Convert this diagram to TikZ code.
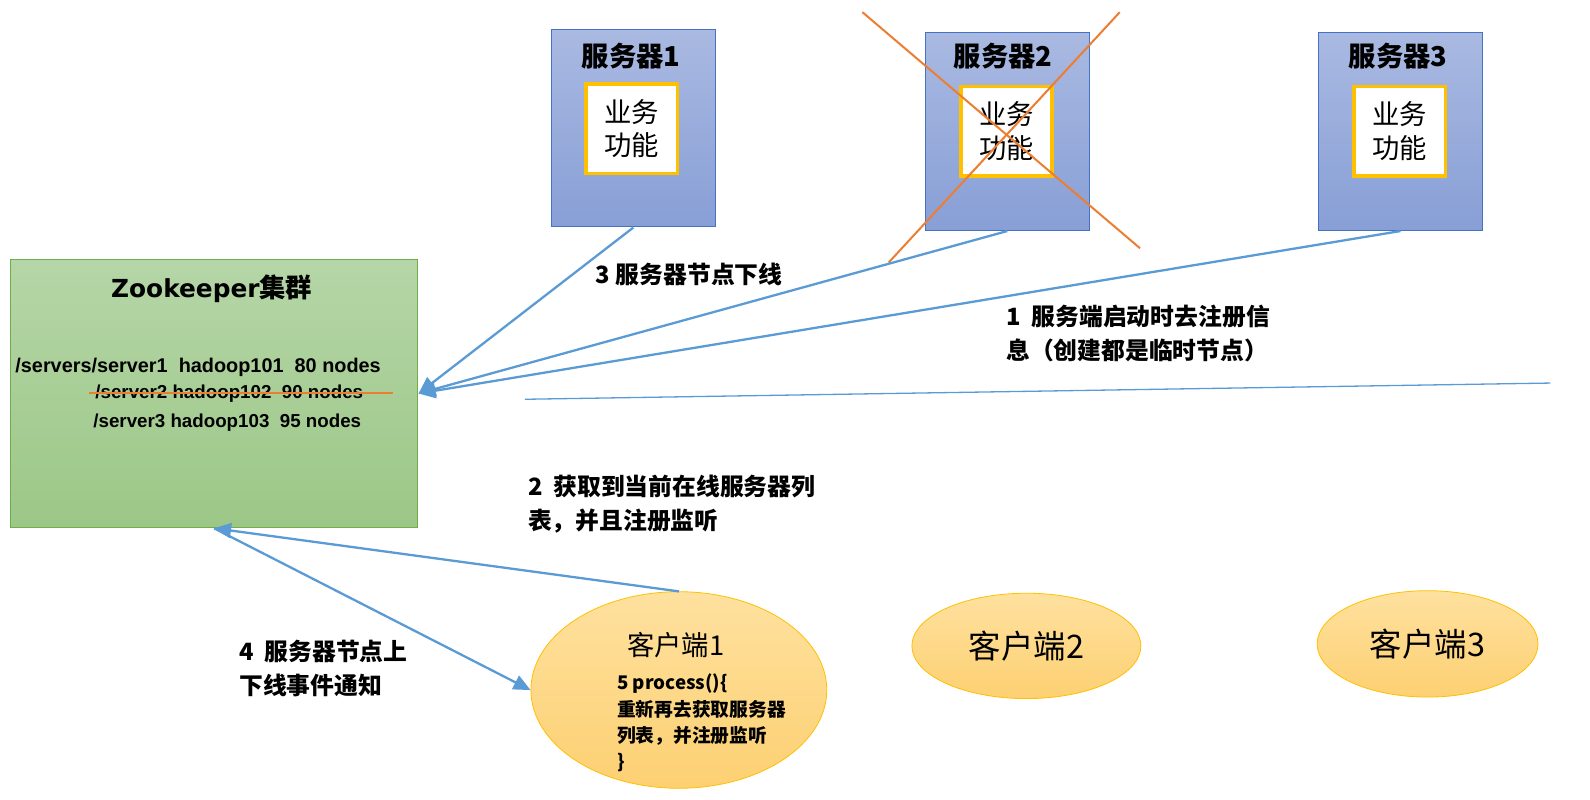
\documentclass[tikz,border=0pt]{standalone}
\usepackage{fontspec}
\setmainfont{Liberation Sans}
\newfontfamily\cjk{Noto Sans CJK SC}
\newfontfamily\zkfont{DejaVu Sans}
\usetikzlibrary{arrows.meta,shapes.geometric}
\definecolor{srvtop}{HTML}{A9B9E1}
\definecolor{srvbot}{HTML}{889FD6}
\definecolor{srvline}{HTML}{4472C4}
\definecolor{zktop}{HTML}{B5D6A7}
\definecolor{zkbot}{HTML}{9CC787}
\definecolor{zkline}{HTML}{70AD47}
\definecolor{cltop}{HTML}{FEE19F}
\definecolor{clbot}{HTML}{FDD072}
\definecolor{gold}{HTML}{FFC000}
\definecolor{arrowblue}{HTML}{5B9BD5}
\definecolor{xorange}{HTML}{ED7D31}
\tikzset{
  srvbox/.style={draw=srvline, line width=1pt, top color=srvtop, bottom color=srvbot, minimum width=162pt, minimum height=195pt, inner sep=0pt},
  funcbox/.style={draw=gold, line width=3.5pt, fill=white, minimum width=90pt, minimum height=88pt, inner sep=0pt, align=center, font=\cjk\fontsize{27}{33}\selectfont},
  srvtitle/.style={font=\cjk\bfseries\fontsize{27}{30}\selectfont, inner sep=0pt},
  zkbox/.style={draw=zkline, line width=1pt, top color=zktop, bottom color=zkbot, minimum width=402.5pt, minimum height=265pt, inner sep=0pt},
  client/.style={ellipse, draw=gold, line width=0.8pt, top color=cltop, bottom color=clbot, inner sep=0pt},
  lbl/.style={font=\cjk\bfseries\fontsize{23.5}{33}\selectfont, align=left, inner sep=0pt, anchor=north west},
  zktext/.style={font=\bfseries\fontsize{18.5}{20}\selectfont, inner sep=0pt, anchor=base west},
  conn/.style={draw=arrowblue, line width=2.3pt},
  arr/.style={conn, -{Triangle[length=17pt,width=15pt]}},
  cross/.style={draw=xorange, line width=2pt}
}
\begin{document}
\begin{tikzpicture}[x=1pt,y=-1pt,scale=1.0132,every node/.append style={transform shape}]
\useasboundingbox (0,0) rectangle (1569.29,789.58);
% servers
\node[srvbox] (s1) at (625,126.5) {};
\node[srvtitle] (s1t) at (623,55) {服务器1};
\node[funcbox] (f1) at (623.5,127) {业务\\功能};
\node[srvbox] (s2) at (994,130) {};
\node[srvtitle] (s2t) at (990,55) {服务器2};
\node[funcbox] (f2) at (993.5,129.5) {业务\\功能};
\node[srvbox] (s3) at (1382,130) {};
\node[srvtitle] (s3t) at (1380,55) {服务器3};
\node[funcbox] (f3) at (1381.5,129.5) {业务\\功能};
% cross over server 2
\coordinate (xa1) at (851,12);
\coordinate (xa2) at (1125,245);
\coordinate (xb1) at (1105,12);
\coordinate (xb2) at (877,259);
\draw[cross] (xa1) -- (xa2);
\draw[cross] (xb1) -- (xb2);
% zookeeper
\node[zkbox] (zk) at (211.25,388.3) {};
\node[inner sep=0pt] (zkt) at (209,285) {{\zkfont\bfseries\fontsize{24.5}{28}\selectfont Zookeeper}{\cjk\bfseries\fontsize{26}{28}\selectfont 集群}};
\node[zktext, font=\bfseries\fontsize{19.6}{20}\selectfont] (z1) at (15,368) {/servers/server1~~hadoop101~~80 nodes};
\node[zktext] (z2) at (94,393) {/server2 hadoop102~~90 nodes};
\node[zktext] (z3) at (92,421.5) {/server3 hadoop103~~95 nodes};
\coordinate (st1) at (88,388);
\coordinate (st2) at (388,388);
\draw[cross, line width=1.8pt] (st1) -- (st2);
% clients
\node[client, minimum width=292pt, minimum height=194pt] (c1) at (670,681) {};
\node[font=\cjk\fontsize{27}{30}\selectfont, inner sep=0pt] (c1t) at (667,637) {客户端1};
\node[font=\cjk\bfseries\fontsize{18.5}{26}\selectfont, align=left, inner sep=0pt, anchor=north west] (c1b) at (609,665) {5 process()\{\\重新再去获取服务器\\列表，并注册监听\\\}};
\node[client, minimum width=226pt, minimum height=104pt, font=\cjk\fontsize{32}{36}\selectfont] (c2) at (1013,637.5) {客户端2};
\node[client, minimum width=218pt, minimum height=105pt, font=\cjk\fontsize{32}{36}\selectfont] (c3) at (1409,635.5) {客户端3};
% connectors
\draw[arr] (s1.south) -- (zk.east);
\draw[arr] (s2.south) -- (zk.east);
\draw[arr] (s3.south) -- (zk.east);
\coordinate (fl1) at (518,394);
\coordinate (fl2) at (1530,378);
\draw[conn, line width=1.3pt] (fl1) -- (fl2);
\draw[arr] (c1.north) -- (zk.south);
\draw[arr] (zk.south) -- (c1.west);
% labels
\node[lbl] (l3) at (588,259) {3 服务器节点下线};
\node[lbl] (l1) at (993,301) {1~~服务端启动时去注册信\\息（创建都是临时节点）};
\node[lbl] (l2) at (521,469) {2~~获取到当前在线服务器列\\表，并且注册监听};
\node[lbl] (l4) at (236,632) {4~~服务器节点上\\下线事件通知};
\end{tikzpicture}
\end{document}
